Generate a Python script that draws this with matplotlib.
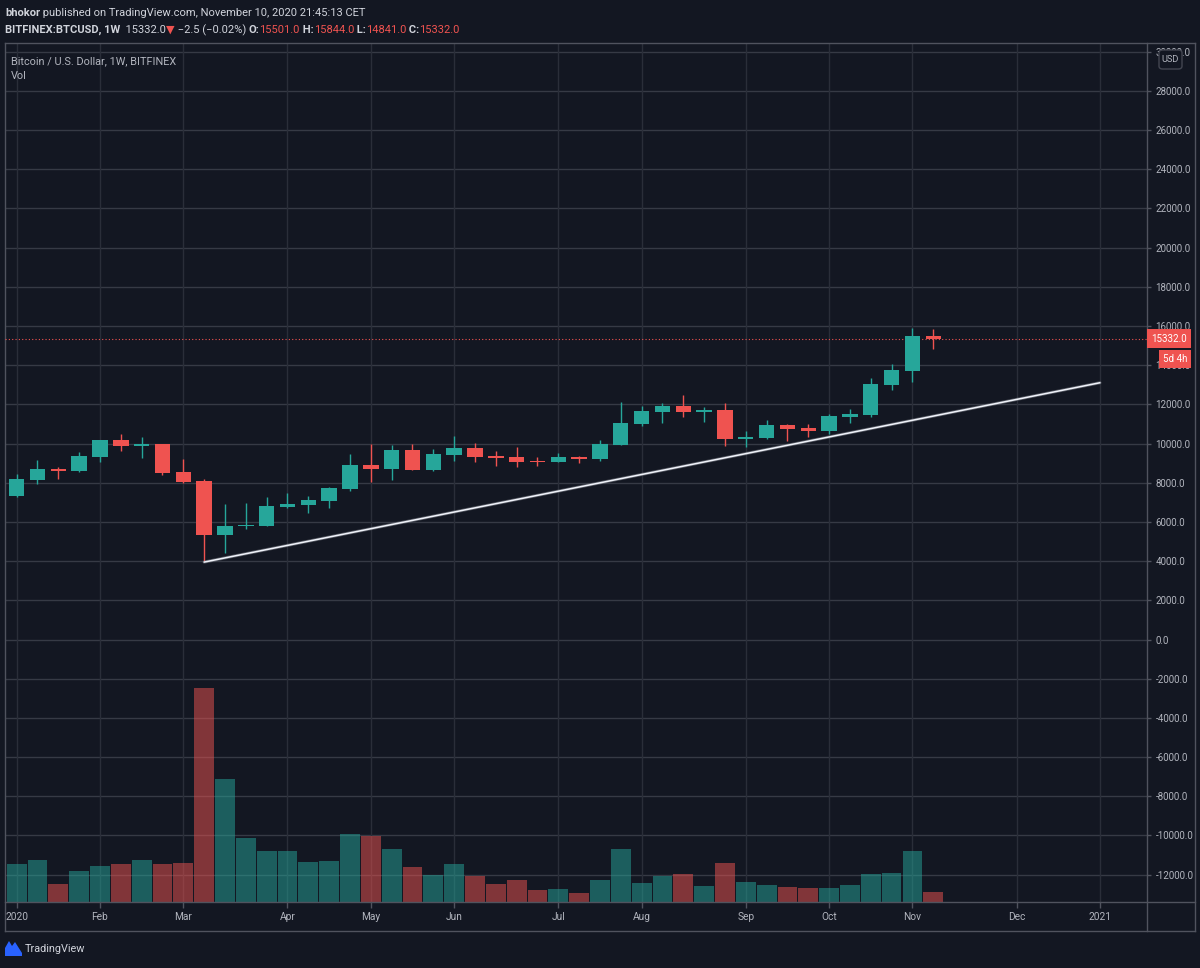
import matplotlib
matplotlib.use("Agg")
import matplotlib.pyplot as plt
from matplotlib.lines import Line2D
from matplotlib.patches import Polygon, Rectangle, FancyBboxPatch

# ---------------- data (weekly candles, BITFINEX:BTCUSD 2020, first bar = week of Jan 6) ----------------
opens = [7300, 8120, 8684, 8582, 9316, 10171, 9880, 9966, 8530, 8069,
         5317, 5779, 5813, 6736, 6838, 7060, 7659, 8889, 8684, 9658,
         8633, 9402, 9761, 9351, 9299, 9111, 9043, 9299, 9197, 9915,
         10991, 11606, 11914, 11606, 11709, 10222, 10273, 10940, 10804, 10633,
         11350, 11453, 12991, 13709, 15501]
highs = [8428, 9145, 8804, 9573, 10200, 10478, 10325, 10000, 9231, 8206,
         6890, 6941, 7248, 7454, 7300, 7761, 9453, 10000, 9915, 10000,
         9744, 10376, 10017, 9607, 9812, 9299, 9504, 9350, 10171, 12119,
         11914, 12068, 12478, 11863, 12068, 10632, 11196, 10991, 10991, 11504,
         11761, 13350, 14068, 15914, 15844]
lows = [7250, 7949, 8171, 8547, 9043, 9624, 9265, 8393, 8000, 3984,
        4394, 5625, 5800, 6700, 6445, 6702, 7573, 8035, 8120, 8633,
        8600, 9094, 9060, 8838, 8787, 8838, 9043, 8992, 9094, 9900,
        10889, 11042, 11350, 11094, 9863, 9812, 10222, 10137, 10342, 10479,
        11043, 11350, 12735, 13145, 14841]
closes = [8171, 8684, 8582, 9351, 10171, 9863, 9983, 8496, 8035, 5317,
          5813, 5864, 6787, 6890, 7095, 7710, 8889, 8684, 9658, 8633,
          9453, 9761, 9299, 9248, 9043, 9060, 9299, 9197, 9966, 11042,
          11658, 11914, 11606, 11709, 10222, 10325, 10940, 10752, 10633, 11402,
          11504, 13042, 13760, 15503, 15332]
volumes = [38, 42, 18, 31, 36, 38, 42, 38, 39, 214,
           123, 64, 51, 51, 40, 41, 68, 66, 53, 35,
           27, 38, 26, 18, 22, 12, 13, 9, 22, 53,
           19, 26, 28, 16, 39, 20, 17, 15, 14, 14,
           17, 28, 29, 51, 10]

month_pos = [0, 4, 8, 13, 17, 21, 26, 30, 35, 39, 43, 48, 52]
month_labels = ["2020", "Feb", "Mar", "Apr", "May", "Jun", "Jul", "Aug",
                "Sep", "Oct", "Nov", "Dec", "2021"]
price_ticks = list(range(-12000, 30001, 2000))

trend_x = [9, 52]
trend_y = [3950, 13100]

last_price = 15332.0

# ---------------- style ----------------
BG = "#131722"
UP = "#26a69a"
DN = "#ef5350"
TXT = "#d1d4dc"
AXTXT = "#b2b5be"
GRID_H = "#363a45"
GRID_V = "#2a2e39"
BORDER = "#50535e"
FONT = ["Roboto", "DejaVu Sans"]

S_TICK = 7.0
S_TIME = 7.3
S_HEAD = 8.0
S_LEG = 7.8
S_LOGO = 7.8
S_USD = 6.6
S_BOX = 7.0

W, H = 1200, 968
L, R, T, B = 5, 1147, 43, 902

plt.rcParams["font.family"] = FONT

fig = plt.figure(figsize=(W / 100, H / 100), dpi=100, facecolor=BG)
renderer = fig.canvas.get_renderer()

# background axes (under the volume pane)
bgax = fig.add_axes([L / W, 1 - B / H, (R - L) / W, (B - T) / H], zorder=0)
bgax.set_facecolor(BG)
bgax.set_xticks([]); bgax.set_yticks([])
for s in bgax.spines.values():
    s.set_visible(False)

ax = fig.add_axes([L / W, 1 - B / H, (R - L) / W, (B - T) / H], zorder=2)
ax.patch.set_visible(False)
ax.set_xlim(-0.56, 54.26)
ax.set_ylim(-13393, 30434)

ax.set_yticks(price_ticks)
ax.set_yticklabels([f"{v:.1f}" for v in price_ticks])
ax.set_xticks(month_pos)
ax.set_xticklabels(month_labels)
for s in ax.spines.values():
    s.set_visible(False)

# volume pane (own scale), under the candles
ax2 = fig.add_axes([L / W, 1 - B / H, (R - L) / W, (B - T) / H], zorder=1, sharex=ax)
ax2.patch.set_visible(False)
ax2.set_ylim(0, 859)
ax2.tick_params(left=False, right=False, bottom=False, labelleft=False, labelbottom=False)
for s in ax2.spines.values():
    s.set_visible(False)

# grid on the background axes so it sits beneath translucent volume bars
bgax.set_xlim(ax.get_xlim()); bgax.set_ylim(ax.get_ylim())
for v in price_ticks:
    bgax.axhline(v, color=GRID_H, linewidth=1.0)
for p in month_pos:
    bgax.axvline(p, color=GRID_V, linewidth=1.0)

ax.yaxis.tick_right()
ax.tick_params(axis="y", colors=BORDER, labelcolor=AXTXT, length=3, width=1, pad=3.0, labelsize=S_TICK)
ax.tick_params(axis="x", colors=BORDER, labelcolor=AXTXT, length=4, width=1, pad=3.5, labelsize=S_TIME)

idx = list(range(len(opens)))
colors = [(UP if c >= o else DN) for o, c in zip(opens, closes)]
ax2.bar(idx, volumes, width=0.95, color=colors, alpha=0.5, linewidth=0)

# candles
ax.vlines(idx, lows, highs, colors=colors, linewidth=1.0, zorder=3)
bottoms = [min(o, c) for o, c in zip(opens, closes)]
heights = [max(abs(c - o), 60) for o, c in zip(opens, closes)]
ax.bar(idx, heights, bottom=bottoms, width=0.74, color=colors, linewidth=0, zorder=4)

# trend line
ax.plot(trend_x, trend_y, color="#9598a1", linewidth=2.2, alpha=0.5, zorder=5, solid_capstyle="round")
ax.plot(trend_x, trend_y, color="#f0f3fa", linewidth=1.1, zorder=6, solid_capstyle="round")

# last price line
ax.axhline(last_price, color=DN, linewidth=0.8, linestyle=(0, (1, 2)), zorder=2)


def fx(x):
    return x / W


def fy(y):
    return 1 - y / H


# price labels on the scale, aligned to the last price
y_last = H - ax.transData.transform((0, last_price))[1]
fig.add_artist(Rectangle((fx(1147), fy(y_last + 9.5)), 44 / W, 19 / H, transform=fig.transFigure,
                         fc=DN, ec="none", zorder=10))
fig.text(fx(1169), fy(y_last), f"{last_price:.1f}", color="white", fontsize=S_BOX,
         ha="center", va="center", zorder=11)
fig.add_artist(Rectangle((fx(1159), fy(y_last + 29.5)), 32 / W, 18 / H, transform=fig.transFigure,
                         fc=DN, ec="none", zorder=10))
fig.text(fx(1175), fy(y_last + 20.5), "5d 4h", color="white", fontsize=S_BOX,
         ha="center", va="center", zorder=11)

# frame lines
for (x0, y0, x1, y1) in [(L, T, 1195, T), (L, T, L, 931), (1195, T, 1195, 931),
                         (L, 931, 1195, 931), (R, T, R, 931), (L, B, 1195, B)]:
    fig.add_artist(Line2D([fx(x0), fx(x1)], [fy(y0), fy(y1)], color=BORDER, linewidth=1.0))

# USD box
fig.add_artist(FancyBboxPatch((fx(1159), fy(69)), 23 / W, 19 / H, transform=fig.transFigure,
                              boxstyle="round,pad=0,rounding_size=0.003", fc=BG, ec="#434651",
                              lw=1, zorder=10))
fig.text(fx(1170.5), fy(59.5), "USD", color=AXTXT, fontsize=S_USD, ha="center", va="center", zorder=11)

# legend labels
fig.text(fx(11), fy(61), "Bitcoin / U.S. Dollar, 1W, BITFINEX", color=AXTXT, fontsize=S_LEG,
         ha="left", va="center")
fig.text(fx(11), fy(76), "Vol", color=AXTXT, fontsize=S_LEG, ha="left", va="center")


# header
def runs(items, x_px, y_px, size):
    x = x_px
    for text, color, weight in items:
        t = fig.text(fx(x), fy(y_px), text, color=color, fontsize=size, fontweight=weight,
                     ha="left", va="center", family=FONT)
        bb = t.get_window_extent(renderer=renderer)
        x += bb.width


runs([("bhokor", TXT, "bold"),
      (" published on TradingView.com, November 10, 2020 21:45:13 CET", TXT, "normal")], 5, 13, S_HEAD)
runs([("BITFINEX:BTCUSD, 1W", TXT, "bold"),
      ("  15332.0", TXT, "normal"),
      ("\u25bc", DN, "normal"),
      (" \u22122.5 (\u22120.02%) ", TXT, "normal"),
      ("O:", TXT, "bold"), ("15501.0", DN, "normal"),
      (" H:", TXT, "bold"), ("15844.0", DN, "normal"),
      (" L:", TXT, "bold"), ("14841.0", DN, "normal"),
      (" C:", TXT, "bold"), ("15332.0", DN, "normal")], 5, 30, S_HEAD)

# TradingView logo
logo = [(5, 956), (5, 948), (9, 941), (12, 946), (15, 942), (22, 953), (22, 956)]
fig.add_artist(Polygon([(fx(a), fy(b)) for a, b in logo], closed=True, fc="#2962ff", ec="none",
                       transform=fig.transFigure))
fig.text(fx(25), fy(949), "TradingView", color=TXT, fontsize=S_LOGO, ha="left", va="center")

fig.savefig("out.png", dpi=100, facecolor=BG)
